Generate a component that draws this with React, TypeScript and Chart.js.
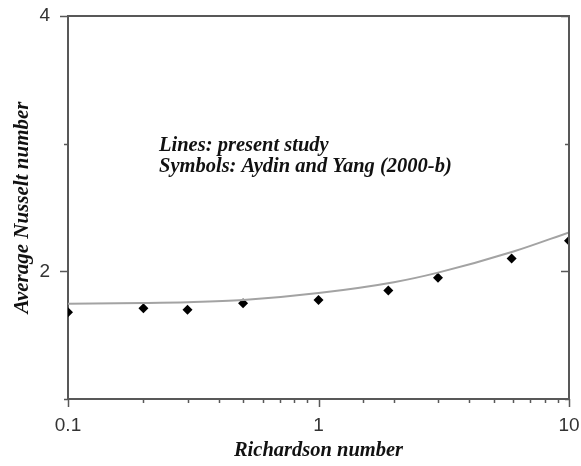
import { useEffect, useRef } from "react";
import { Chart, registerables } from "chart.js";

Chart.register(...registerables);

// Present study (smooth line)
const lineRichardson = [0.1, 0.2, 0.3, 0.5, 1, 2, 3, 6, 10];
const lineNusselt = [1.747, 1.752, 1.758, 1.775, 1.83, 1.915, 1.99, 2.155, 2.305];

// Aydin and Yang (2000-b) (symbols)
const symbolRichardson = [0.1, 0.2, 0.3, 0.5, 1, 1.9, 3, 5.9, 10];
const symbolNusselt = [1.68, 1.71, 1.7, 1.75, 1.775, 1.85, 1.95, 2.1, 2.24];

// Labelled tick values
const xLabelled = [0.1, 1, 10];
const yLabelled = [2, 4];

const noteLines = ["Lines: present study", "Symbols: Aydin and Yang (2000-b)"];

const AXIS_COLOR = "#585858";
const TICK_TEXT = "#333333";
const SERIF = "'Liberation Serif', 'Times New Roman', serif";
const SANS = "'Liberation Sans', Arial, sans-serif";

const isIn = (v: number, list: number[]) =>
  list.some((l) => Math.abs(l - v) < 1e-9 * Math.max(1, l));

// Draws the top/right frame, tick marks on all sides and the key note.
const framePlugin = {
  id: "frame",
  afterDatasetsDraw(chart: any) {
    const { ctx, chartArea: a, scales } = chart;
    const xs = scales.x;
    const ys = scales.y;
    ctx.save();
    ctx.strokeStyle = AXIS_COLOR;
    ctx.lineWidth = 2;
    ctx.beginPath();
    ctx.moveTo(a.left - 1, a.top);
    ctx.lineTo(a.right, a.top);
    ctx.lineTo(a.right, a.bottom + 1);
    ctx.stroke();

    ctx.lineWidth = 1.5;
    ctx.beginPath();
    xs.ticks.forEach((t: any) => {
      const px = Math.round(xs.getPixelForValue(t.value)) + 0.5;
      const len = isIn(t.value, xLabelled) ? 8 : 4;
      ctx.moveTo(px, a.bottom);
      ctx.lineTo(px, a.bottom + len);
    });
    ys.ticks.forEach((t: any) => {
      const py = Math.round(ys.getPixelForValue(t.value)) + 0.5;
      const len = isIn(t.value, yLabelled) ? 8 : 4;
      ctx.moveTo(a.left, py);
      ctx.lineTo(a.left - len, py);
      ctx.moveTo(a.right, py);
      ctx.lineTo(a.right - len, py);
    });
    ctx.stroke();

    ctx.fillStyle = "#111111";
    ctx.font = `italic bold 20.5px ${SERIF}`;
    ctx.textAlign = "left";
    ctx.textBaseline = "alphabetic";
    noteLines.forEach((line, i) => {
      ctx.fillText(line, a.left + 91, a.top + 135 + i * 21);
    });
    ctx.restore();
  },
};

export default function App() {
  const canvasRef = useRef<HTMLCanvasElement | null>(null);

  useEffect(() => {
    if (!canvasRef.current) return;
    const chart = new Chart(canvasRef.current, {
      type: "line",
      data: {
        datasets: [
          {
            label: "Present study",
            data: lineRichardson.map((x, i) => ({ x, y: lineNusselt[i] })),
            borderColor: "#a3a3a3",
            borderWidth: 2,
            pointRadius: 0,
            cubicInterpolationMode: "monotone",
            fill: false,
            clip: 0,
          },
          {
            label: "Aydin and Yang (2000-b)",
            data: symbolRichardson.map((x, i) => ({ x, y: symbolNusselt[i] })),
            showLine: false,
            pointStyle: "rectRot",
            pointRadius: 5,
            pointBackgroundColor: "#000000",
            pointBorderColor: "#000000",
            pointBorderWidth: 0,
            clip: 0,
          },
        ],
      },
      options: {
        animation: false,
        responsive: true,
        maintainAspectRatio: false,
        layout: { padding: { top: 16, right: 12, left: 0, bottom: 0 } },
        plugins: {
          legend: { display: false },
          tooltip: { enabled: false },
        },
        scales: {
          x: {
            type: "logarithmic",
            min: 0.1,
            max: 10,
            afterFit: (s: any) => {
              s.height = 67;
              s.paddingLeft = 0;
              s.paddingRight = 0;
            },
            grid: { display: true, drawOnChartArea: false, drawTicks: false },
            border: { display: true, color: AXIS_COLOR, width: 2 },
            ticks: {
              autoSkip: false,
              maxRotation: 0,
              padding: 15,
              color: TICK_TEXT,
              font: { family: SANS, size: 19 },
              callback: (v: any) => {
                const n = Number(v);
                return isIn(n, xLabelled) ? String(n) : "";
              },
            },
            title: {
              display: true,
              text: "Richardson number",
              color: "#111111",
              font: { family: SERIF, size: 20.5, style: "italic", weight: "bold" },
              padding: { top: 0, bottom: 3 },
            },
          },
          y: {
            type: "linear",
            min: 1,
            max: 4,
            afterFit: (s: any) => {
              s.width = 68;
              s.paddingTop = 0;
              s.paddingBottom = 0;
            },
            grid: { display: true, drawOnChartArea: false, drawTicks: false },
            border: { display: true, color: AXIS_COLOR, width: 2 },
            ticks: {
              stepSize: 1,
              padding: 18,
              color: TICK_TEXT,
              font: { family: SANS, size: 19 },
              callback: (v: any) => {
                const n = Number(v);
                return isIn(n, yLabelled) ? String(n) : "";
              },
            },
            title: {
              display: true,
              text: "Average Nusselt number",
              color: "#111111",
              font: { family: SERIF, size: 21, style: "italic", weight: "bold" },
              padding: { top: 10, bottom: 0 },
            },
          },
        },
      },
      plugins: [framePlugin],
    });
    return () => chart.destroy();
  }, []);

  return (
    <div
      style={{
        position: "fixed",
        left: 0,
        top: 0,
        width: 581,
        height: 466,
        background: "#ffffff",
      }}
    >
      <canvas ref={canvasRef} />
    </div>
  );
}
